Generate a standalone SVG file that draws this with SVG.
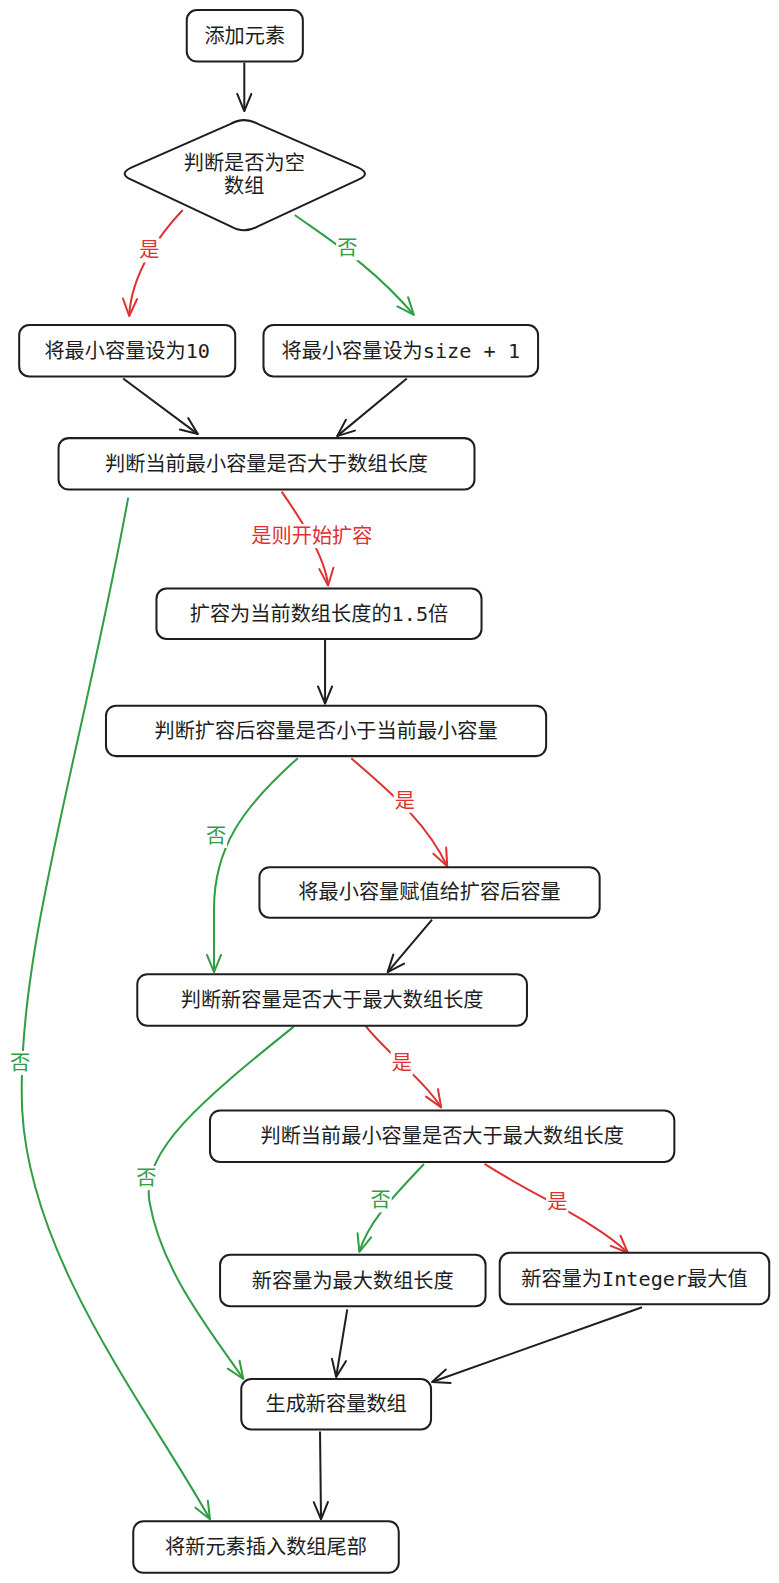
<svg xmlns="http://www.w3.org/2000/svg" width="779" height="1583" viewBox="0 0 779 1583">
<style>
.box{fill:#fff;stroke:#1e1e1e;stroke-width:2}
.t{font-family:"DejaVu Sans Mono","Noto Sans CJK SC",monospace;font-size:20px;fill:#1e1e1e;text-anchor:middle;dominant-baseline:central}
.c{fill:none;stroke-width:2}
.k{stroke:#1e1e1e;marker-end:url(#ak)}
.r{stroke:#e03131;marker-end:url(#ar)}
.g{stroke:#2f9e44;marker-end:url(#ag)}
.lr{fill:#e03131}
.lg{fill:#2f9e44}
.bg{fill:#fff}
</style>
<defs>
<marker id="ak" markerUnits="userSpaceOnUse" markerWidth="24" markerHeight="24" refX="20" refY="12" orient="auto" viewBox="0 0 24 24"><path d="M3,5 L20,12 L3,19" fill="none" stroke="#1e1e1e" stroke-width="2" stroke-linecap="round" stroke-linejoin="round"/></marker>
<marker id="ar" markerUnits="userSpaceOnUse" markerWidth="24" markerHeight="24" refX="20" refY="12" orient="auto" viewBox="0 0 24 24"><path d="M3,5 L20,12 L3,19" fill="none" stroke="#e03131" stroke-width="2" stroke-linecap="round" stroke-linejoin="round"/></marker>
<marker id="ag" markerUnits="userSpaceOnUse" markerWidth="24" markerHeight="24" refX="20" refY="12" orient="auto" viewBox="0 0 24 24"><path d="M3,5 L20,12 L3,19" fill="none" stroke="#2f9e44" stroke-width="2" stroke-linecap="round" stroke-linejoin="round"/></marker>
</defs>
<rect width="779" height="1583" fill="#fff"/>
<g transform="scale(1.0095)">
<g id="connectors">
<path class="c k" d="M242,62 L242,110"/>
<path class="c r" d="M181,208 C160,230 130,270 128,313"/>
<path class="c g" d="M292,213 C330,240 370,265 410,312"/>
<path class="c k" d="M122,375 L196,430"/>
<path class="c k" d="M403,375 L334,432"/>
<path class="c r" d="M279,487 C295,510 322,550 325,580"/>
<path class="c k" d="M322,632 L322,697"/>
<path class="c r" d="M348,751 C380,780 420,810 443,858"/>
<path class="c g" d="M295,751 C240,800 212,840 212,900 L212,963"/>
<path class="c k" d="M428,911 L384,963"/>
<path class="c r" d="M362,1016 C380,1040 420,1070 437,1097"/>
<path class="c g" d="M291,1017 C200,1090 140,1140 148,1190 C160,1260 210,1320 241,1366"/>
<path class="c g" d="M420,1153 C390,1185 365,1210 356,1240"/>
<path class="c r" d="M480,1153 C530,1185 590,1210 622,1241"/>
<path class="c k" d="M344,1297 L333,1364"/>
<path class="c k" d="M636,1295 L428,1369"/>
<path class="c k" d="M317,1418 L318,1505"/>
<path class="c g" d="M127,493 C80,750 15,950 22,1100 C30,1250 150,1400 208,1505"/>
<rect class="bg" x="137" y="236" width="22" height="24"/><text class="t lr" x="148" y="248">是</text>
<rect class="bg" x="333" y="234" width="22" height="24"/><text class="t lg" x="344" y="246">否</text>
<rect class="bg" x="250" y="519" width="118" height="24"/><text class="t lr" x="309" y="531">是则开始扩容</text>
<rect class="bg" x="390" y="781" width="22" height="24"/><text class="t lr" x="401" y="793">是</text>
<rect class="bg" x="203" y="816" width="22" height="24"/><text class="t lg" x="214" y="828">否</text>
<rect class="bg" x="387" y="1041" width="22" height="24"/><text class="t lr" x="398" y="1053">是</text>
<rect class="bg" x="134" y="1155" width="22" height="24"/><text class="t lg" x="145" y="1167">否</text>
<rect class="bg" x="366" y="1177" width="22" height="24"/><text class="t lg" x="377" y="1189">否</text>
<rect class="bg" x="541" y="1179" width="22" height="24"/><text class="t lr" x="552" y="1191">是</text>
<rect class="bg" x="9" y="1041" width="22" height="24"/><text class="t lg" x="20" y="1053">否</text>
</g>
<g id="n1"><rect class="box" x="185" y="10" width="115" height="51" rx="10"/><text class="t" x="242.5" y="35.5">添加元素</text></g>
<g id="n2"><path class="box" d="M228,123 Q242,115 256,123 L355,166 Q368,172 355,178 L256,224 Q242,232 228,224 L130,178 Q117,172 130,166 Z" stroke-linejoin="round"/><text class="t" x="242" y="161">判断是否为空</text><text class="t" x="242" y="184">数组</text></g>
<g id="n3"><rect class="box" x="19" y="322" width="214" height="51" rx="10"/><text class="t" x="126" y="347.5">将最小容量设为10</text></g>
<g id="n4"><rect class="box" x="261" y="322" width="272" height="51" rx="10"/><text class="t" x="397" y="347.5" xml:space="preserve">将最小容量设为size + 1</text></g>
<g id="n5"><rect class="box" x="58" y="434" width="412" height="51" rx="10"/><text class="t" x="264" y="459.5">判断当前最小容量是否大于数组长度</text></g>
<g id="n6"><rect class="box" x="155" y="583" width="322" height="50" rx="10"/><text class="t" x="316" y="608">扩容为当前数组长度的1.5倍</text></g>
<g id="n7"><rect class="box" x="105" y="699" width="436" height="50" rx="10"/><text class="t" x="323" y="724">判断扩容后容量是否小于当前最小容量</text></g>
<g id="n8"><rect class="box" x="257" y="859" width="337" height="50" rx="10"/><text class="t" x="425.5" y="884">将最小容量赋值给扩容后容量</text></g>
<g id="n9"><rect class="box" x="136" y="965" width="386" height="51" rx="10"/><text class="t" x="329" y="990.5">判断新容量是否大于最大数组长度</text></g>
<g id="n10"><rect class="box" x="208" y="1100" width="460" height="51" rx="10"/><text class="t" x="438" y="1125.5">判断当前最小容量是否大于最大数组长度</text></g>
<g id="n11"><rect class="box" x="218" y="1243" width="263" height="51" rx="10"/><text class="t" x="349.5" y="1268.5">新容量为最大数组长度</text></g>
<g id="n12"><rect class="box" x="495" y="1241" width="267" height="51" rx="10"/><text class="t" x="628.5" y="1266.5">新容量为Integer最大值</text></g>
<g id="n13"><rect class="box" x="239" y="1366" width="188" height="50" rx="10"/><text class="t" x="333" y="1391">生成新容量数组</text></g>
<g id="n14"><rect class="box" x="132" y="1507" width="263" height="51" rx="10"/><text class="t" x="263.5" y="1532.5">将新元素插入数组尾部</text></g>
</g>
</svg>
